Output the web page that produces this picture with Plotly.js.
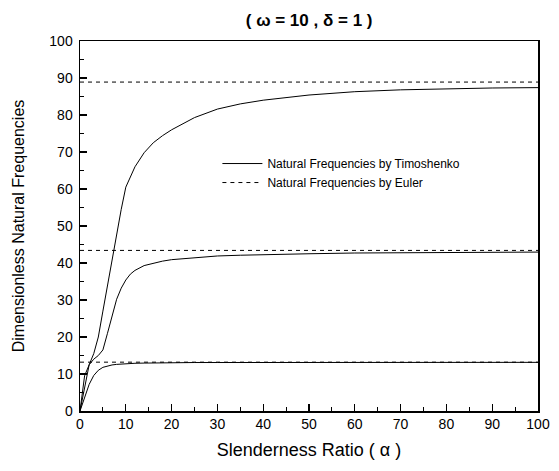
<!DOCTYPE html>
<html>
<head>
<meta charset="utf-8">
<script src="https://cdn.plot.ly/plotly-3.0.1.min.js"></script>
<style>html,body{margin:0;padding:0;background:#fff;}#chart{width:559px;height:471px;}</style>
</head>
<body>
<div id="chart"></div>
<script>
// Slenderness ratio samples
const alpha = [0, 1, 2, 3, 4, 5, 6, 7, 8, 9, 10, 11, 12, 14, 16, 18, 20, 25, 30, 35, 40, 50, 60, 70, 80, 90, 100];
// Timoshenko natural frequencies (modes 1-3)
const timo1 = [0, 3.5, 7.2, 9.6, 11.0, 11.8, 12.2, 12.45, 12.6, 12.7, 12.8, 12.85, 12.9, 12.95, 13.0, 13.0, 13.05, 13.1, 13.1, 13.1, 13.12, 13.13, 13.14, 13.15, 13.15, 13.15, 13.15];
const timo2 = [0, 9.5, 12.5, 14.0, 15.0, 16.5, 21.0, 26.0, 30.2, 33.2, 35.4, 37.0, 38.0, 39.3, 40.0, 40.5, 40.9, 41.5, 41.9, 42.1, 42.3, 42.5, 42.7, 42.8, 42.85, 42.9, 42.95];
const timo3 = [0, 6.5, 12.5, 15.5, 20.0, 27.0, 34.0, 41.0, 48.0, 54.5, 60.5, 63.5, 66.0, 69.8, 72.5, 74.4, 76.0, 79.3, 81.6, 83.0, 84.0, 85.4, 86.3, 86.8, 87.1, 87.3, 87.4];
// Euler natural frequencies (constant)
const eulerX = [0, 100];
const euler1 = [13.2, 13.2];
const euler2 = [43.4, 43.4];
const euler3 = [88.9, 88.9];

const FONT = 'Liberation Sans, Arial, sans-serif';
const solid = {color: '#000', width: 1};
const dashed = {color: '#000', width: 1, dash: '4px,4px'};

const traces = [
  {x: alpha, y: timo1, mode: 'lines', line: solid, name: 'Natural Frequencies by Timoshenko', showlegend: true},
  {x: alpha, y: timo2, mode: 'lines', line: solid, showlegend: false},
  {x: alpha, y: timo3, mode: 'lines', line: solid, showlegend: false},
  {x: eulerX, y: euler1, mode: 'lines', line: dashed, name: 'Natural Frequencies by Euler', showlegend: true},
  {x: eulerX, y: euler2, mode: 'lines', line: dashed, showlegend: false},
  {x: eulerX, y: euler3, mode: 'lines', line: dashed, showlegend: false}
];

const axisCommon = {
  showgrid: false, zeroline: false, showline: true, linecolor: '#000', linewidth: 1.5,
  mirror: true, ticks: 'inside', ticklen: 7, tickwidth: 1.3, tickcolor: '#000',
  tickfont: {family: FONT, size: 14, color: '#000'},
  minor: {ticks: 'inside', ticklen: 4, tickwidth: 1, tickcolor: '#000', dtick: 5, showgrid: false}
};

const layout = {
  width: 559, height: 471,
  margin: {l: 80, r: 21, t: 41, b: 60},
  paper_bgcolor: '#fff', plot_bgcolor: '#fff',
  title: {text: '<b>( ω = 10 , δ = 1 )</b>', x: 0.553, xanchor: 'center', y: 0.958, yanchor: 'middle',
          font: {family: FONT, size: 17, color: '#000'}},
  xaxis: Object.assign({}, axisCommon, {
    range: [0, 100], dtick: 10, tick0: 0,
    title: {text: 'Slenderness Ratio ( α )', standoff: 12,
            font: {family: FONT, size: 18, color: '#000'}}
  }),
  yaxis: Object.assign({}, axisCommon, {
    range: [0, 100], dtick: 10, tick0: 0, ticklabelstandoff: 3,
    title: {text: 'Dimensionless Natural Frequencies', standoff: 20,
            font: {family: FONT, size: 16, color: '#000'}}
  }),
  showlegend: true,
  legend: {x: 0.3, y: 0.708, xanchor: 'left', yanchor: 'top', bgcolor: 'rgba(0,0,0,0)',
           borderwidth: 0, itemwidth: 40, tracegroupgap: 0,
           font: {family: FONT, size: 12, color: '#000'}}
};

Plotly.newPlot('chart', traces, layout, {displayModeBar: false, staticPlot: true});
</script>
</body>
</html>
